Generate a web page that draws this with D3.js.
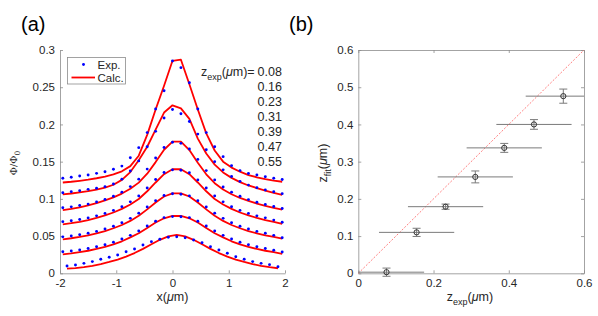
<!DOCTYPE html>
<html><head><meta charset="utf-8">
<script src="https://cdn.jsdelivr.net/npm/d3@7"></script>
<style>
body{margin:0;background:#fff}
svg{display:block;font-family:"Liberation Sans",Arial,Helvetica,sans-serif}
</style>
</head><body>
<svg id="c" width="598" height="316"></svg>
<script>
// ---------- Panel (a) data ----------
const xGrid = [-1.95,-1.8,-1.65,-1.5,-1.35,-1.2,-1.05,-0.9,-0.75,-0.6,-0.45,-0.3,-0.15,0,0.15,0.3,0.45,0.6,0.75,0.9,1.05,1.2,1.35,1.5,1.65,1.8,1.95];
const xGridLow = [-1.875,-1.725,-1.575,-1.425,-1.275,-1.125,-0.975,-0.825,-0.675,-0.525,-0.375,-0.225,-0.075,0.075,0.225,0.375,0.525,0.675,0.825,0.975,1.125,1.275,1.425,1.575,1.725,1.875];

const calc1 = [.1220,.1230,.1243,.1258,.1277,.1300,.1330,.1370,.1440,.1580,.1860,.2200,.2520,.2855,.2870,.2540,.2200,.1880,.1650,.1500,.1420,.1365,.1320,.1290,.1265,.1245,.1230];
const exp1  = [.1276,.1290,.1307,.1320,.1343,.1365,.1397,.1440,.1553,.1688,.1890,.2207,.2453,.2852,.2763,.2560,.2207,.1890,.1700,.1567,.1446,.1380,.1340,.1320,.1298,.1276,.1260];
const calc2 = [.1060,.1072,.1087,.1104,.1125,.1150,.1190,.1255,.1360,.1520,.1700,.1930,.2160,.2257,.2216,.2075,.1810,.1610,.1460,.1355,.1282,.1225,.1180,.1145,.1112,.1082,.1055];
const exp2  = [.1083,.1097,.1110,.1128,.1142,.1164,.1200,.1265,.1374,.1510,.1700,.1907,.2086,.2200,.2144,.2040,.1870,.1660,.1500,.1390,.1300,.1235,.1185,.1150,.1120,.1095,.1070];
const calc3 = [.0850,.0866,.0887,.0912,.0942,.0979,.1020,.1071,.1135,.1218,.1338,.1494,.1660,.1770,.1770,.1655,.1485,.1330,.1210,.1125,.1062,.1012,.0972,.0937,.0907,.0880,.0855];
const exp3  = [.0880,.0893,.0910,.0930,.0957,.0992,.1035,.1090,.1165,.1265,.1400,.1550,.1690,.1760,.1746,.1670,.1530,.1380,.1255,.1160,.1090,.1035,.0990,.0955,.0925,.0897,.0870];
const calc4 = [.0658,.0673,.0692,.0716,.0745,.0779,.0817,.0865,.0924,.0998,.1102,.1220,.1331,.1398,.1398,.1331,.1220,.1102,.0998,.0924,.0865,.0817,.0779,.0745,.0716,.0692,.0665];
const exp4  = [.0694,.0705,.0722,.0744,.0772,.0805,.0845,.0895,.0960,.1040,.1145,.1260,.1355,.1390,.1385,.1350,.1255,.1145,.1040,.0960,.0895,.0845,.0805,.0772,.0745,.0715,.0685];
const calc5 = [.0457,.0471,.0489,.0511,.0537,.0568,.0605,.0649,.0704,.0772,.0859,.0951,.1032,.1075,.1075,.1032,.0951,.0859,.0772,.0704,.0649,.0605,.0568,.0537,.0511,.0489,.0465];
const exp5  = [.0490,.0502,.0518,.0538,.0563,.0595,.0633,.0680,.0738,.0808,.0890,.0975,.1045,.1068,.1062,.1040,.0975,.0890,.0808,.0738,.0680,.0633,.0595,.0563,.0538,.0510,.0478];
const calc6 = [.0255,.0267,.0284,.0303,.0327,.0355,.0389,.0430,.0482,.0538,.0610,.0682,.0739,.0770,.0770,.0739,.0682,.0610,.0538,.0482,.0430,.0389,.0355,.0327,.0303,.0284,.0262];
const exp6  = [.0290,.0300,.0314,.0333,.0356,.0384,.0418,.0460,.0510,.0568,.0635,.0700,.0748,.0762,.0760,.0748,.0700,.0635,.0568,.0510,.0460,.0418,.0384,.0356,.0333,.0310,.0287];
const calc7 = [.0064,.0070,.0083,.0101,.0124,.0152,.0185,.0225,.0272,.0328,.0390,.0450,.0495,.0515,.0495,.0450,.0390,.0328,.0272,.0225,.0185,.0152,.0124,.0101,.0083,.0068];
const exp7  = [.0098,.0111,.0134,.0157,.0188,.0215,.0246,.0290,.0326,.0380,.0425,.0457,.0484,.0492,.0478,.0447,.0411,.0357,.0313,.0269,.0223,.0188,.0157,.0134,.0116,.0089];

const zLabels = ["0.08","0.16","0.23","0.31","0.39","0.47","0.55"];
const aXTicks = [-2,-1,0,1,2];
const aXTickLabels = ["-2","-1","0","1","2"];
const aYTicks = [0,0.05,0.1,0.15,0.2,0.25,0.3];
const aYTickLabels = ["0","0.05","0.1","0.15","0.2","0.25","0.3"];

// ---------- Panel (b) data ----------
const zExp    = [0.075,0.155,0.232,0.311,0.388,0.467,0.545];
const zFit    = [0.003,0.110,0.179,0.259,0.337,0.400,0.476];
const zFitErr = [0.011,0.011,0.007,0.016,0.012,0.013,0.019];
const zExpErr = [0.100,0.100,0.100,0.100,0.100,0.100,0.100];
const bTicks = [0,0.1,0.2,0.3,0.4,0.5,0.6];
const bYTickLabels = ["0","0.1","0.2","0.3","0.4","0.5","0.6"];
const bXTicks = [0,0.2,0.4,0.6];
const bXTickLabels = ["0","0.2","0.4","0.6"];

const svg = d3.select("#c");
const AX = "#8c8c8c", TX = "#262626";

function styleAxis(g){
  g.selectAll("path.domain").attr("stroke",AX).attr("stroke-width",0.8);
  g.selectAll(".tick line").attr("stroke",AX).attr("stroke-width",0.8);
  g.selectAll(".tick text").attr("fill",TX).style("font-size","11.5px").style("font-family",'"Liberation Sans",Arial,sans-serif');
}

// ===== Panel (a) =====
const ax = d3.scaleLinear().domain([-2,2]).range([60,285]);
const ay = d3.scaleLinear().domain([0,0.3]).range([273.3,50]);

const gA = svg.append("g");
gA.append("g").attr("transform","translate(0,273.3)")
  .call(d3.axisBottom(ax).tickValues(aXTicks).tickFormat((d,i)=>aXTickLabels[i]).tickSizeInner(-3).tickSizeOuter(0).tickPadding(6))
  .call(styleAxis);
gA.append("g").attr("transform","translate(60,0)")
  .call(d3.axisLeft(ay).tickValues(aYTicks).tickFormat((d,i)=>aYTickLabels[i]).tickSizeInner(-3).tickSizeOuter(0).tickPadding(5))
  .call(styleAxis);

const calcs = [calc1,calc2,calc3,calc4,calc5,calc6,calc7];
const exps  = [exp1,exp2,exp3,exp4,exp5,exp6,exp7];
const line = d3.line().x(d=>ax(d[0])).y(d=>ay(d[1]));
calcs.forEach((c,k)=>{
  const xs = k===6 ? xGridLow : xGrid;
  gA.append("path").datum(c.map((v,i)=>[xs[i],v]))
    .attr("d",line).attr("fill","none").attr("stroke","#ff0000").attr("stroke-width",1.8).attr("stroke-linejoin","round");
});
exps.forEach((e,k)=>{
  const xs = k===6 ? xGridLow : xGrid;
  gA.append("g").selectAll("circle").data(e.map((v,i)=>[xs[i],v])).join("circle")
    .attr("cx",d=>ax(d[0])).attr("cy",d=>ay(d[1])).attr("r",1.45).attr("fill","#0000ff");
});

// legend
const lg = gA.append("g");
lg.append("rect").attr("x",67.5).attr("y",57.5).attr("width",58).attr("height",26.5).attr("fill","#fff").attr("stroke",AX).attr("stroke-width",0.8);
lg.append("circle").attr("cx",83.5).attr("cy",64.5).attr("r",1.45).attr("fill","#0000ff");
lg.append("line").attr("x1",71.5).attr("x2",95).attr("y1",77.5).attr("y2",77.5).attr("stroke","#ff0000").attr("stroke-width",1.8);
lg.append("text").attr("x",97.5).attr("y",68.5).attr("fill",TX).style("font-size","11.5px").text("Exp.");
lg.append("text").attr("x",97.5).attr("y",81.5).attr("fill",TX).style("font-size","11.5px").text("Calc.");

// z_exp annotation
const zt = gA.append("text").attr("x",201).attr("y",76).attr("fill",TX).style("font-size","12.5px");
zt.append("tspan").text("z");
zt.append("tspan").attr("dy",4).style("font-size","9px").text("exp");
zt.append("tspan").attr("dy",-4).text("(");
zt.append("tspan").style("font-style","italic").text("μ");
zt.append("tspan").text("m)=");
gA.append("g").selectAll("text").data(zLabels).join("text")
  .attr("x",257.5).attr("y",(d,i)=>76+15*i).attr("fill",TX).style("font-size","12.5px").text(d=>d);

// axis labels
const xl = gA.append("text").attr("x",172.5).attr("y",301).attr("text-anchor","middle").attr("fill",TX).style("font-size","12.5px");
xl.append("tspan").text("x(");
xl.append("tspan").style("font-style","italic").text("μ");
xl.append("tspan").text("m)");
const yl = gA.append("text").attr("transform","translate(17,163) rotate(-90)").attr("text-anchor","middle").attr("fill",TX).style("font-size","10px").style("font-family",'"DejaVu Serif","Liberation Serif",serif');
yl.append("tspan").text("Φ/Φ");
yl.append("tspan").attr("dy",3).style("font-size","7.5px").text("0");

gA.append("text").attr("x",21).attr("y",31).attr("fill","#000").style("font-size","20px").text("(a)");

// ===== Panel (b) =====
const bx = d3.scaleLinear().domain([0,0.6]).range([358.3,584]);
const by = d3.scaleLinear().domain([0,0.6]).range([273.3,50]);
const gB = svg.append("g");

gB.append("g").attr("transform","translate(0,273.3)")
  .call(d3.axisBottom(bx).tickValues(bXTicks).tickFormat((d,i)=>bXTickLabels[i]).tickSizeInner(-3).tickSizeOuter(0).tickPadding(6))
  .call(styleAxis);
gB.append("g").attr("transform","translate(0,50)")
  .call(d3.axisTop(bx).tickValues(bXTicks).tickFormat("").tickSizeInner(-3).tickSizeOuter(0))
  .call(styleAxis);
gB.append("g").attr("transform","translate(358.3,0)")
  .call(d3.axisLeft(by).tickValues(bTicks).tickFormat((d,i)=>bYTickLabels[i]).tickSizeInner(-3).tickSizeOuter(0).tickPadding(5))
  .call(styleAxis);
gB.append("g").attr("transform","translate(584,0)")
  .call(d3.axisRight(by).tickValues(bTicks).tickFormat("").tickSizeInner(-3).tickSizeOuter(0))
  .call(styleAxis);

// diagonal
gB.append("line").attr("x1",bx(0)).attr("y1",by(0)).attr("x2",bx(0.6)).attr("y2",by(0.6))
  .attr("stroke","#ff7070").attr("stroke-width",0.9).attr("stroke-dasharray","2,1.6");

const pts = zExp.map((x,i)=>({x, y:zFit[i], ey:zFitErr[i], ex:zExpErr[i]}));
const EB = "#7a7a7a";
const eg = gB.append("g");
pts.forEach(p=>{
  const x0 = bx(Math.max(0,p.x-p.ex)), x1 = bx(Math.min(0.6,p.x+p.ex));
  eg.append("line").attr("x1",x0).attr("x2",x1).attr("y1",by(p.y)).attr("y2",by(p.y)).attr("stroke",EB).attr("stroke-width",1);
  eg.append("line").attr("x1",bx(p.x)).attr("x2",bx(p.x)).attr("y1",by(p.y-p.ey)).attr("y2",by(p.y+p.ey)).attr("stroke",EB).attr("stroke-width",1);
  [p.y-p.ey,p.y+p.ey].forEach(v=>{
    eg.append("line").attr("x1",bx(p.x)-4).attr("x2",bx(p.x)+4).attr("y1",by(v)).attr("y2",by(v)).attr("stroke",EB).attr("stroke-width",1);
  });
});
gB.append("g").selectAll("circle").data(pts).join("circle")
  .attr("cx",d=>bx(d.x)).attr("cy",d=>by(d.y)).attr("r",2.6)
  .attr("fill","none").attr("stroke","#333").attr("stroke-width",1);

const bxl = gB.append("text").attr("x",470).attr("y",301).attr("text-anchor","middle").attr("fill",TX).style("font-size","12.5px");
bxl.append("tspan").text("z");
bxl.append("tspan").attr("dy",4).style("font-size","9px").text("exp");
bxl.append("tspan").attr("dy",-4).text("(");
bxl.append("tspan").style("font-style","italic").text("μ");
bxl.append("tspan").text("m)");
const byl = gB.append("text").attr("transform","translate(327,163) rotate(-90)").attr("text-anchor","middle").attr("fill",TX).style("font-size","12.5px");
byl.append("tspan").text("z");
byl.append("tspan").attr("dy",4).style("font-size","9px").text("fit");
byl.append("tspan").attr("dy",-4).text("(");
byl.append("tspan").style("font-style","italic").text("μ");
byl.append("tspan").text("m)");

gB.append("text").attr("x",289).attr("y",31).attr("fill","#000").style("font-size","20px").text("(b)");
</script>
</body></html>
